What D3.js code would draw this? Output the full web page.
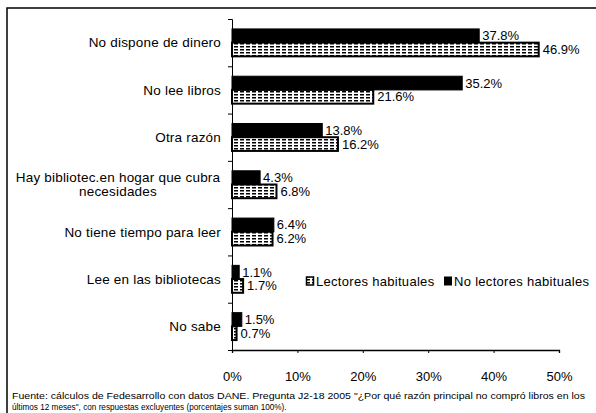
<!DOCTYPE html>
<html>
<head>
<meta charset="utf-8">
<script src="https://cdn.jsdelivr.net/npm/d3@7"></script>
<style>
  body { margin: 0; background: #fff; }
  text { font-family: "Liberation Sans", Arial, sans-serif; fill: #000; }
</style>
</head>
<body>
<svg id="chart" width="596" height="413"></svg>
<script>
// reasons for not buying books, readers vs non readers (% of each group)
var categories = ["No dispone de dinero", "No lee libros", "Otra razón",
  "Hay bibliotec.en hogar que cubra|necesidades", "No tiene tiempo para leer",
  "Lee en las bibliotecas", "No sabe"];
var noLectores = [37.8, 35.2, 13.8, 4.3, 6.4, 1.1, 1.5];
var lectores = [46.9, 21.6, 16.2, 6.8, 6.2, 1.7, 0.7];
var seriesNames = ["Lectores habituales", "No lectores habituales"];
var xTicks = [0, 10, 20, 30, 40, 50];
var source = ["Fuente: cálculos de Fedesarrollo con datos DANE. Pregunta J2-18 2005 \"¿Por qué razón principal no compró libros en los",
  "últimos 12 meses\", con respuestas excluyentes (porcentajes suman 100%)."];

var svg = d3.select("#chart");

// stripe pattern for the lighter series
var defs = svg.append("defs");
var pat = defs.append("pattern")
  .attr("id", "stripes")
  .attr("patternUnits", "userSpaceOnUse")
  .attr("width", 6).attr("height", 3);
pat.append("rect").attr("width", 6).attr("height", 3).attr("fill", "#fff");
pat.append("rect").attr("y", 1).attr("width", 4).attr("height", 1.5).attr("fill", "#000");

// frame
svg.append("path")
  .attr("d", "M7,413 L7,8 L596,8")
  .attr("fill", "none").attr("stroke", "#000").attr("stroke-width", 1.5);

var x = d3.scaleLinear().domain([0, 50]).range([232, 559]);
var y = d3.scaleBand().domain(d3.range(categories.length)).range([19, 350])
  .paddingInner(0.42).paddingOuter(0.21);
var yAx = d3.scaleLinear().domain([0, categories.length]).range([19, 350]);

// x axis
var xG = svg.append("g")
  .attr("transform", "translate(0,350)")
  .call(d3.axisBottom(x).tickValues(xTicks).tickFormat(d => d + "%")
    .tickSize(3).tickPadding(19));
xG.select(".domain").attr("stroke-width", 1.3);
xG.selectAll("text").style("font-size", "13px").style("font-family", "Liberation Sans, Arial, sans-serif");

// y axis, ticks between categories
var yG = svg.append("g")
  .attr("transform", "translate(232,0)")
  .call(d3.axisLeft(yAx).ticks(7).tickSize(4).tickFormat(""));

// category labels
categories.forEach(function(c, i) {
  var lines = c.split("|");
  var cy = y(i) + y.bandwidth() / 2;
  var multi = lines.length > 1;
  var t = svg.append("text")
    .attr("text-anchor", multi ? "middle" : "end")
    .attr("y", cy - (lines.length - 1) * 7)
    .style("font-size", "13.5px")
    .style("letter-spacing", "0.2px");
  lines.forEach(function(l, k) {
    t.append("tspan").attr("x", multi ? 118 : 221).attr("dy", k === 0 ? "0.35em" : "14px").text(l);
  });
});

var bh = y.bandwidth() / 2;

// no lectores (top, dark)
svg.selectAll(".bar-nl").data(noLectores).enter().append("rect")
  .attr("class", "bar-nl")
  .attr("x", x(0))
  .attr("y", (d, i) => y(i))
  .attr("width", d => x(d) - x(0))
  .attr("height", bh)
  .attr("fill", "#000").attr("stroke", "#000").attr("stroke-width", 1);

// lectores (bottom, striped)
svg.selectAll(".bar-l").data(lectores).enter().append("rect")
  .attr("class", "bar-l")
  .attr("x", x(0))
  .attr("y", (d, i) => y(i) + bh)
  .attr("width", d => x(d) - x(0))
  .attr("height", bh)
  .attr("fill", "url(#stripes)").attr("stroke", "#000").attr("stroke-width", 2);

// value labels
svg.selectAll(".lab-nl").data(noLectores).enter().append("text")
  .attr("x", d => x(d) + 3)
  .attr("y", (d, i) => y(i) + bh / 2)
  .attr("dy", "0.35em")
  .style("font-size", "13px")
  .text(d => d.toFixed(1) + "%");
svg.selectAll(".lab-l").data(lectores).enter().append("text")
  .attr("x", d => x(d) + 4)
  .attr("y", (d, i) => y(i) + bh * 1.5)
  .attr("dy", "0.35em")
  .style("font-size", "13px")
  .text(d => d.toFixed(1) + "%");

// legend
var leg = svg.append("g").attr("transform", "translate(306,281)");
leg.append("rect").attr("x", 0.5).attr("y", -4).attr("width", 7).attr("height", 8)
  .attr("fill", "url(#stripes)").attr("stroke", "#000").attr("stroke-width", 1.5);
leg.append("text").attr("x", 10).attr("dy", "0.35em").style("font-size", "13px")
  .style("letter-spacing", "0.3px").text(seriesNames[0]);
leg.append("rect").attr("x", 138.5).attr("y", -4).attr("width", 7).attr("height", 8)
  .attr("fill", "#000").attr("stroke", "#000");
leg.append("text").attr("x", 148).attr("dy", "0.35em").style("font-size", "13px")
  .style("letter-spacing", "0.3px").text(seriesNames[1]);

// source note
source.forEach(function(s, i) {
  var t = svg.append("text")
    .attr("x", 12).attr("y", 399 + i * 11)
    .style("font-size", "8.2px")
    .text(s);
  if (i === 0) t.attr("textLength", 573).attr("lengthAdjust", "spacingAndGlyphs");
});
</script>
</body>
</html>
